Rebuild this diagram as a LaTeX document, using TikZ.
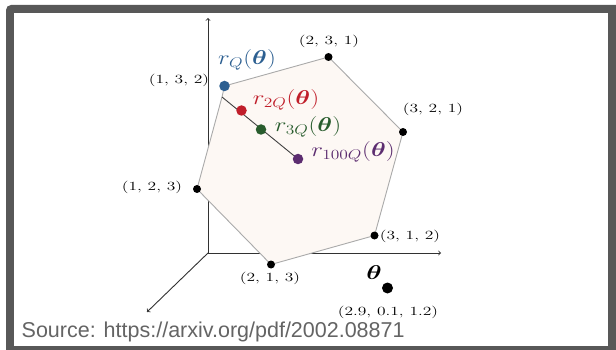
\RequirePackage{fix-cm}
\documentclass[tikz,border=0pt]{standalone}
\usepackage{amsmath,amsbsy}
\usepackage{graphicx}
\usepackage{fontspec}
\newfontfamily\srcfont{Liberation Sans}
\definecolor{framegray}{RGB}{88,88,88}
\definecolor{polyfill}{RGB}{253,248,244}
\definecolor{polyedge}{RGB}{170,170,170}
\definecolor{axisgray}{RGB}{50,50,50}
\definecolor{qblue}{RGB}{44,95,145}
\definecolor{qred}{RGB}{192,30,42}
\definecolor{qgreen}{RGB}{40,92,45}
\definecolor{qpurple}{RGB}{92,45,112}
\definecolor{srcgray}{RGB}{100,100,100}
\newcommand\trilab[1]{\scalebox{1.4}[1]{$#1$}}
\tikzset{
  axisline/.style={draw=axisgray, line width=0.9pt, ->},
  poly/.style={fill=polyfill, draw=polyedge, line width=0.9pt},
  seg/.style={draw=black!75, line width=0.9pt},
  vdot/.style={circle, fill=black, inner sep=0pt, minimum size=8pt},
  cdot/.style={circle, inner sep=0pt, minimum size=10.5pt},
  tri/.style={inner sep=0pt, font=\fontsize{12.5}{14}\selectfont},
  rlab/.style={inner sep=0pt, font=\fontsize{20}{24}\selectfont},
}
\begin{document}
\begin{tikzpicture}[x=1pt,y=-1pt]
\useasboundingbox (0,0) rectangle (616,350);
% frame
\fill[framegray] (6,350) -- (6,10) arc[start angle=180, end angle=270, radius=5] -- (616,5) -- (616,350) -- cycle;
\fill[white] (14,13) rectangle (608,346);
% axes
\coordinate (O) at (208,253);
\coordinate (Zt) at (208,18);
\coordinate (Xt) at (441,253);
\coordinate (Yt) at (147,312);
\draw[axisline] (O) -- (Zt);
\draw[axisline] (O) -- (Xt);
\draw[axisline] (O) -- (Yt);
% polygon
\coordinate (A) at (197,189);
\coordinate (B) at (222,97);
\coordinate (C) at (224.5,86);
\coordinate (D) at (328.5,57);
\coordinate (E) at (403,132);
\coordinate (F) at (374.5,235.5);
\coordinate (G) at (271,264.5);
\filldraw[poly] (A) -- (B) -- (C) -- (D) -- (E) -- (F) -- (G) -- cycle;
% path of r points
\coordinate (P2) at (241.5,110.5);
\coordinate (P3) at (261,129.5);
\coordinate (P4) at (298,159);
\draw[seg] (B) -- (P4);
% vertex dots
\node[vdot] (dA) at (A) {};
\node[vdot] (dD) at (D) {};
\node[vdot] (dE) at (E) {};
\node[vdot] (dF) at (F) {};
\node[vdot] (dG) at (G) {};
\node[cdot, fill=qblue] (q1) at (C) {};
\node[cdot, fill=qred] (q2) at (P2) {};
\node[cdot, fill=qgreen] (q3) at (P3) {};
\node[cdot, fill=qpurple] (q4) at (P4) {};
\node[cdot, fill=black, minimum size=11pt] (th) at (387.5,288) {};
% vertex labels
\node[tri] (l132) at (179,80) {\trilab{(1,\,3,\,2)}};
\node[tri] (l231) at (329,41) {\trilab{(2,\,3,\,1)}};
\node[tri] (l321) at (433,109) {\trilab{(3,\,2,\,1)}};
\node[tri] (l123) at (152,187) {\trilab{(1,\,2,\,3)}};
\node[tri] (l312) at (410,236) {\trilab{(3,\,1,\,2)}};
\node[tri] (l213) at (270,278) {\trilab{(2,\,1,\,3)}};
\node[tri] (lth) at (388,312) {\trilab{(2.9,\,0.1,\,1.2)}};
% r labels
\node[rlab, text=qblue] (r1) at (247,60) {\scalebox{1.25}[1]{$r_{Q}(\boldsymbol{\theta})$}};
\node[rlab, text=qred] (r2) at (286,100) {\scalebox{1.25}[1]{$r_{2Q}(\boldsymbol{\theta})$}};
\node[rlab, text=qgreen] (r3) at (308,127) {\scalebox{1.25}[1]{$r_{3Q}(\boldsymbol{\theta})$}};
\node[rlab, text=qpurple] (r4) at (353,152) {\scalebox{1.25}[1]{$r_{100Q}(\boldsymbol{\theta})$}};
\node[inner sep=0pt, font=\fontsize{20}{24}\selectfont] (thl) at (374,273) {\scalebox{1.3}[1]{$\boldsymbol{\theta}$}};
% source
\node[anchor=base west, inner sep=0pt, text=srcgray, font=\srcfont\fontsize{21.5}{24}\selectfont] (src) at (21.5,337.5) {Source: https://arxiv.org/pdf/2002.08871};
\end{tikzpicture}
\end{document}
